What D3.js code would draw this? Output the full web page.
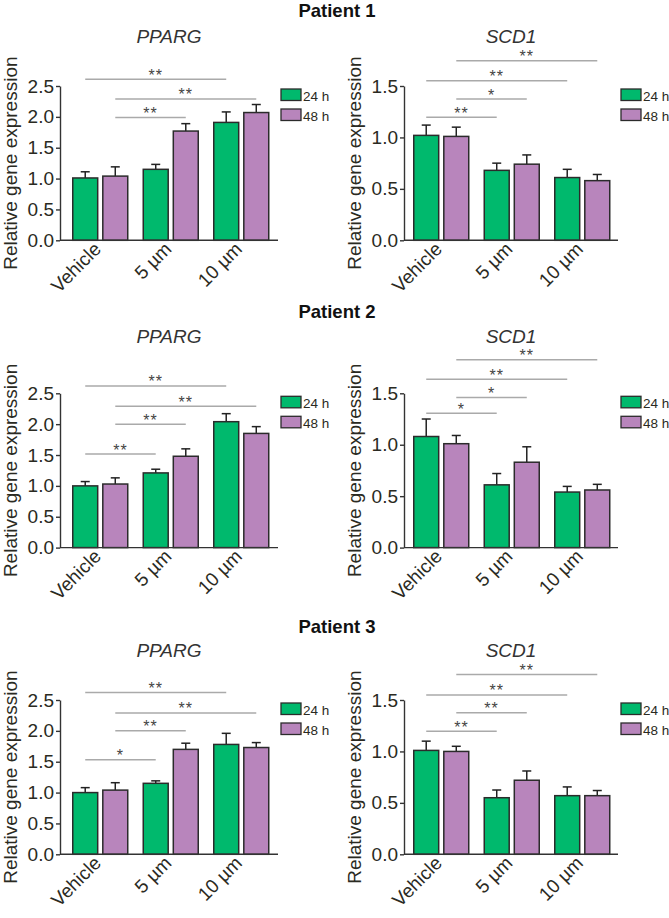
<!DOCTYPE html>
<html><head><meta charset="utf-8">
<script src="https://cdn.jsdelivr.net/npm/d3@7"></script>
<style>
body{margin:0;background:#fff;}
svg{display:block;font-family:"Liberation Sans",Arial,Helvetica,sans-serif;}
</style></head>
<body><svg id="c" width="669" height="918"></svg>
<script>
// ---------- data ----------
const patients = ["Patient 1", "Patient 2", "Patient 3"];
const genes = ["PPARG", "SCD1"];
const groups = ["Vehicle", "5 µm", "10 µm"];
const series = ["24 h", "48 h"];
const ppargTicks = [0, 0.5, 1.0, 1.5, 2.0, 2.5];
const scd1Ticks = [0, 0.5, 1.0, 1.5];

// means [patient][series][group]
const ppargMean = [
  [[1.01, 1.15, 1.91], [1.04, 1.77, 2.07]],
  [[1.00, 1.21, 2.04], [1.03, 1.48, 1.85]],
  [[1.00, 1.15, 1.78], [1.04, 1.70, 1.73]]
];
const ppargErr = [
  [[0.10, 0.08, 0.17], [0.15, 0.12, 0.13]],
  [[0.07, 0.06, 0.13], [0.10, 0.12, 0.11]],
  [[0.08, 0.04, 0.18], [0.12, 0.10, 0.08]]
];
const scd1Mean = [
  [[1.02, 0.68, 0.61], [1.01, 0.74, 0.58]],
  [[1.08, 0.61, 0.54], [1.01, 0.83, 0.56]],
  [[1.01, 0.55, 0.57], [1.00, 0.72, 0.57]]
];
const scd1Err = [
  [[0.10, 0.07, 0.08], [0.09, 0.09, 0.06]],
  [[0.17, 0.11, 0.055], [0.08, 0.15, 0.055]],
  [[0.09, 0.075, 0.085], [0.05, 0.09, 0.05]]
];
// significance brackets: [fromGroup, fromSeries, toGroup, toSeries, level, label]
const ppargSig = [
  [[0,0,2,0,2.61,"**"], [0,1,2,1,2.29,"**"], [0,1,1,1,1.99,"**"]],
  [[0,0,2,0,2.62,"**"], [0,1,2,1,2.29,"**"], [0,1,1,1,2.00,"**"], [0,0,1,0,1.515,"**"]],
  [[0,0,2,0,2.62,"**"], [0,1,2,1,2.29,"**"], [0,1,1,1,2.00,"**"], [0,0,1,0,1.53,"*"]]
];
const scd1Sig = [
  [[0,1,2,1,1.745,"**"], [0,0,2,0,1.552,"**"], [0,1,1,1,1.373,"*"], [0,0,1,0,1.195,"**"]],
  [[0,1,2,1,1.825,"**"], [0,0,2,0,1.636,"**"], [0,1,1,1,1.458,"*"], [0,0,1,0,1.305,"*"]],
  [[0,1,2,1,1.749,"**"], [0,0,2,0,1.549,"**"], [0,1,1,1,1.377,"**"], [0,0,1,0,1.195,"**"]]
];

// ---------- layout ----------
const colors = ["#00b96d", "#b885bc"];
const rowTitleY = [17, 318, 633];
const geneTitleY = [43, 343, 657];
const axisTop = [86, 393.3, 700];
const axisH = 154.3;
const colX = [60, 404];
const colW = [218, 214];
const barStart = [5, 2];

const svg = d3.select("#c");

patients.forEach((p, r) => {
  svg.append("text").attr("x", 337).attr("y", rowTitleY[r])
    .attr("text-anchor", "middle").attr("font-weight", "bold")
    .attr("font-size", 18.5).attr("fill", "#111").text(p);

  genes.forEach((gname, c) => {
    const isP = c === 0;
    const mean = isP ? ppargMean[r] : scd1Mean[r];
    const err = isP ? ppargErr[r] : scd1Err[r];
    const sig = isP ? ppargSig[r] : scd1Sig[r];
    const ticks = isP ? ppargTicks : scd1Ticks;
    const x0 = colX[c], axisW = colW[c];
    const g = svg.append("g");

    const y = d3.scaleLinear().domain([0, d3.max(ticks)])
      .range([axisTop[r] + axisH, axisTop[r]]);
    const xg = d3.scaleBand().domain(groups)
      .range([x0 + barStart[c], x0 + barStart[c] + 211.5]).paddingInner(0.22).paddingOuter(0.11);
    const xs = d3.scaleBand().domain(series).range([0, xg.bandwidth()])
      .paddingInner(0.17).paddingOuter(0);

    // title
    g.append("text").attr("x", x0 + axisW / 2).attr("y", geneTitleY[r])
      .attr("text-anchor", "middle").attr("font-style", "italic")
      .attr("font-size", 19).attr("fill", "#333").text(gname);

    // y label
    g.append("text")
      .attr("transform", `translate(${x0 - 43},${axisTop[r] + axisH / 2}) rotate(-90)`)
      .attr("text-anchor", "middle").attr("font-size", 19).attr("fill", "#2a2a22")
      .text("Relative gene expression");

    // bars
    series.forEach((s, si) => {
      groups.forEach((gr, gi) => {
        const bx = xg(gr) + xs(s);
        const bw = xs.bandwidth();
        const m = mean[si][gi], e = err[si][gi];
        const cx = bx + bw / 2;
        g.append("line").attr("x1", cx).attr("x2", cx)
          .attr("y1", y(m)).attr("y2", y(m + e))
          .attr("stroke", "#222").attr("stroke-width", 1.5);
        g.append("line").attr("x1", cx - 4.5).attr("x2", cx + 4.5)
          .attr("y1", y(m + e)).attr("y2", y(m + e))
          .attr("stroke", "#222").attr("stroke-width", 1.5);
        g.append("rect").attr("x", bx).attr("y", y(m))
          .attr("width", bw).attr("height", y(0) - y(m))
          .attr("fill", colors[si]).attr("stroke", "#2b2b2b").attr("stroke-width", 1.5);
      });
    });

    // y axis
    const ya = g.append("g").attr("transform", `translate(${x0},0)`)
      .call(d3.axisLeft(y).tickValues(ticks).tickFormat(d3.format(".1f"))
        .tickSize(4).tickSizeOuter(0).tickPadding(2));
    ya.select(".domain").attr("stroke", "#333").attr("stroke-width", 1.4);
    ya.selectAll(".tick line").attr("stroke", "#333").attr("stroke-width", 1.4);
    ya.selectAll("text").attr("font-size", 19).attr("fill", "#2a2a22")
      .attr("font-family", '"Liberation Sans",Arial,sans-serif');

    // x axis
    const xa = g.append("g").attr("transform", `translate(0,${y(0)})`)
      .call(d3.axisBottom(xg).tickSize(0).tickSizeOuter(0).tickPadding(0));
    xa.select(".domain").attr("d", `M${x0},0H${x0 + axisW}`)
      .attr("stroke", "#333").attr("stroke-width", 1.4);
    xa.selectAll("text").attr("font-size", 19).attr("fill", "#2a2a22")
      .attr("font-family", '"Liberation Sans",Arial,sans-serif')
      .attr("text-anchor", "end").attr("dy", null).attr("y", 0)
      .attr("transform", "translate(2,10) rotate(-45)");

    // significance
    sig.forEach(([ga, sa, gb, sb, lvl, lab]) => {
      const xa1 = xg(groups[ga]) + xs(series[sa]) + xs.bandwidth() / 2;
      const xb1 = xg(groups[gb]) + xs(series[sb]) + xs.bandwidth() / 2;
      g.append("line").attr("x1", xa1).attr("x2", xb1)
        .attr("y1", y(lvl)).attr("y2", y(lvl))
        .attr("stroke", "#aaaaaa").attr("stroke-width", 1.5);
      g.append("text").attr("x", (xa1 + xb1) / 2).attr("y", y(lvl) + 1.5)
        .attr("text-anchor", "middle").attr("font-size", 16).attr("fill", "#444")
        .attr("letter-spacing", 1).text(lab);
    });

    // legend
    const lx = x0 + axisW + 3;
    series.forEach((s, si) => {
      const ly = axisTop[r] + 3 + si * 20;
      g.append("rect").attr("x", lx).attr("y", ly).attr("width", 20).attr("height", 11.5)
        .attr("fill", colors[si]).attr("stroke", "#2b2b2b").attr("stroke-width", 1.3);
      g.append("text").attr("x", lx + 22).attr("y", ly + 11.5)
        .attr("font-size", 13.5).attr("fill", "#2a2a22").text(s);
    });
  });
});
</script></body></html>
